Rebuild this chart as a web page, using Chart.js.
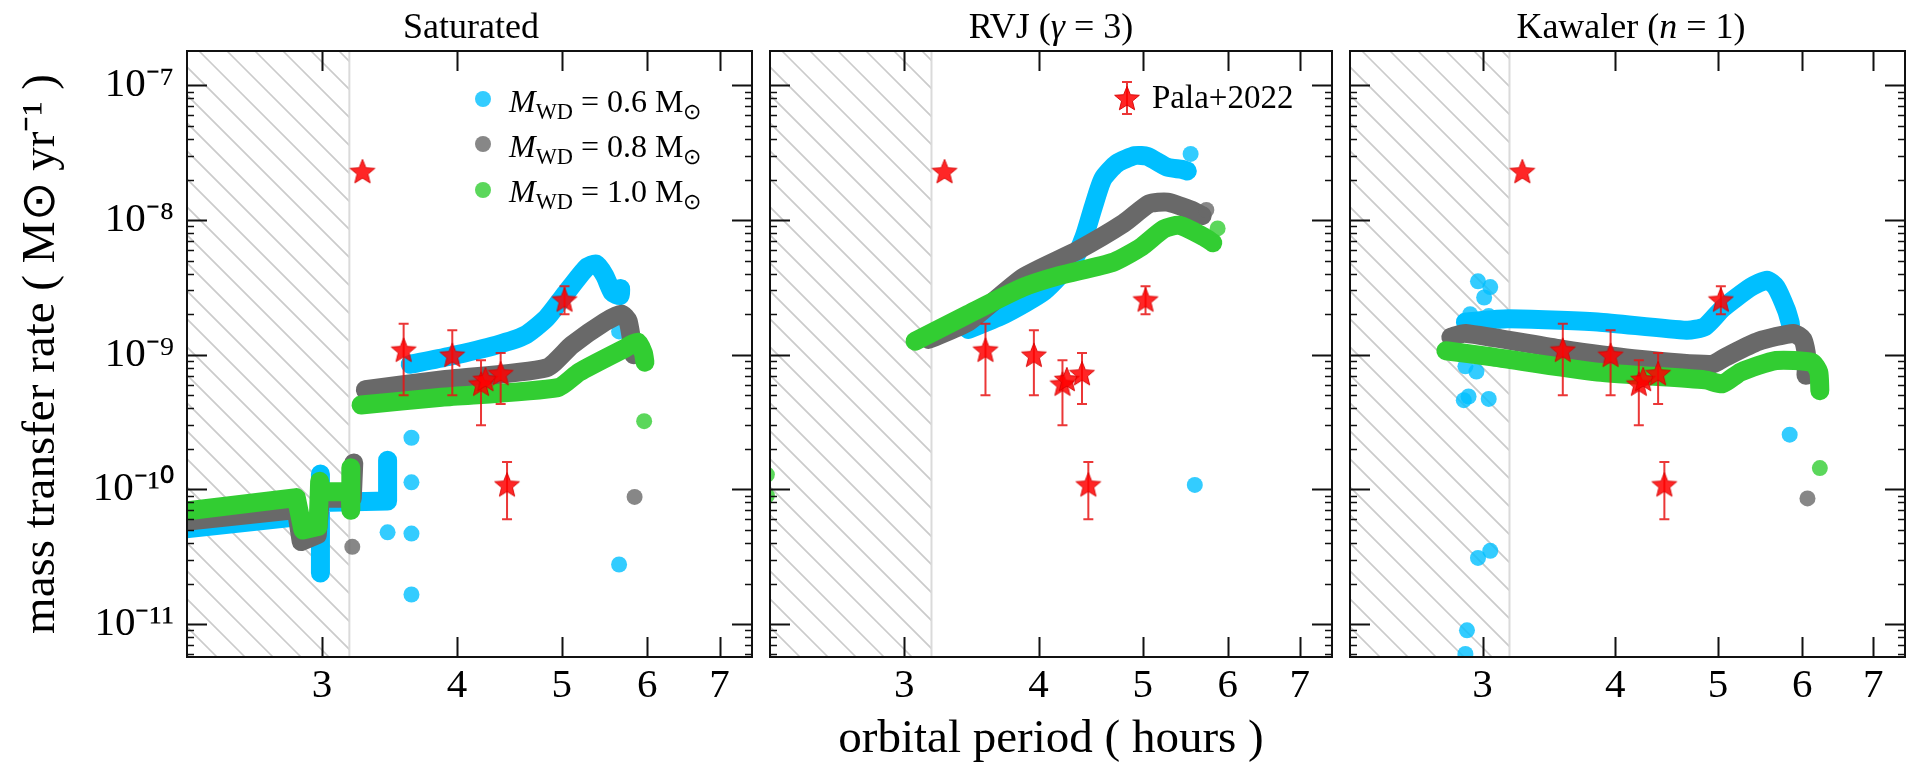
<!DOCTYPE html>
<html>
<head>
<meta charset="utf-8">
<script src="https://cdn.jsdelivr.net/npm/chart.js@4.4.0/dist/chart.umd.min.js"></script>
<style>
  body { margin: 0; width: 1918px; height: 768px; overflow: hidden; position: relative; background: #fff;
         font-family: "Liberation Serif", "Times New Roman", serif; color: #000; }
  canvas { position: absolute; top: 0; }
  .ttl { position: absolute; top: 8px; height: 36px; line-height: 36px; font-size: 36px; text-align: center; white-space: nowrap; }
  .lg { position: absolute; font-size: 32px; line-height: 32px; white-space: nowrap; }
  .lg2 { font-size: 33px; line-height: 33px; }
  .sb { font-size: 0.7em; position: relative; top: 0.3em; }
  .dot { position: absolute; width: 16px; height: 16px; border-radius: 50%; }
</style>
</head>
<body>
<canvas id="satChart" width="765" height="768" style="left:0px"></canvas>
<canvas id="rvjChart" width="588" height="768" style="left:757px"></canvas>
<canvas id="kawChart" width="581" height="768" style="left:1337px"></canvas>

<div class="ttl" style="left:187px;width:568px">Saturated</div>
<div class="ttl" style="left:767px;width:568px">RVJ (<i>γ</i> = 3)</div>
<div class="ttl" style="left:1347px;width:568px">Kawaler (<i>n</i> = 1)</div>

<!-- legend, Saturated panel -->
<div class="dot" style="left:475px;top:91px;background:rgba(0,191,255,0.8)"></div>
<div class="dot" style="left:475px;top:136px;background:rgba(105,105,105,0.8)"></div>
<div class="dot" style="left:475px;top:182px;background:rgba(50,205,50,0.8)"></div>
<div class="lg" style="left:509px;top:85px"><i>M</i><span class="sb">WD</span> = 0.6 M<span class="sb">⊙</span></div>
<div class="lg" style="left:509px;top:130px"><i>M</i><span class="sb">WD</span> = 0.8 M<span class="sb">⊙</span></div>
<div class="lg" style="left:509px;top:175px"><i>M</i><span class="sb">WD</span> = 1.0 M<span class="sb">⊙</span></div>

<!-- legend, RVJ panel -->
<canvas id="palaKey" width="40" height="40" style="left:1107px;top:78px"></canvas>
<div class="lg lg2" style="left:1152px;top:81px">Pala+2022</div>

<script>
// axis ranges and ticks
const X_MIN = 2.25, X_MAX = 7.5;
const Y_MIN = 5.7e-12, Y_MAX = 1.8e-7;
const GAP_EDGE = 3.18;               // upper edge of the hatched period gap
const periodTicks = [3, 4, 5, 6, 7];
const rateTicks = [1e-11, 1e-10, 1e-9, 1e-8, 1e-7];

// Pala+2022 observations (period in hours, rate in Msun/yr)
const palaPeriod = [3.27, 3.57, 3.96, 4.21, 4.25, 4.39, 5.03, 4.45];
const palaRate   = [2.31e-8, 1.09e-9, 1.0e-9, 6.1e-10, 6.6e-10, 7.3e-10, 2.57e-9, 1.09e-10];
const palaRateHi = [null, 1.70e-9, 1.52e-9, 9.1e-10, null, 1.03e-9, 3.22e-9, 1.60e-10];
const palaRateLo = [null, 5.0e-10, 5.0e-10, 3.0e-10, null, 4.3e-10, 2.0e-9, 6.0e-11];

// Saturated
const satBlueLow   = [[2.24, 5.1e-11], [2.86, 6.3e-11]];
const satBlueStep  = [[2.99, 1.3e-10], [2.99, 2.4e-11], [2.99, 8.0e-11], [3.45, 8.2e-11], [3.45, 1.65e-10]];
const satBlueHigh  = [[3.62, 8.5e-10], [3.93, 9.7e-10], [4.35, 1.18e-9], [4.62, 1.39e-9], [4.84, 1.87e-9], [5.03, 2.78e-9],
                      [5.27, 4.43e-9], [5.38, 4.72e-9], [5.48, 3.87e-9], [5.57, 2.9e-9], [5.66, 2.75e-9], [5.67, 3.1e-9]];
const satBluePts   = [[3.45, 4.8e-11], [3.63, 2.42e-10], [3.63, 1.13e-10], [3.63, 4.7e-11], [3.63, 1.66e-11], [5.65, 2.77e-11], [5.65, 1.49e-9]];
const satGrayLow   = [[2.24, 5.8e-11], [2.84, 7.1e-11], [2.87, 4.1e-11], [2.97, 4.6e-11], [2.99, 8.6e-11], [3.2, 8.6e-11], [3.21, 1.57e-10]];
const satGrayHigh  = [[3.29, 5.5e-10], [3.87, 6.5e-10], [4.84, 8.0e-10], [5.11, 1.18e-9], [5.48, 1.75e-9], [5.68, 2.0e-9], [5.76, 1.78e-9], [5.83, 1.0e-9]];
const satGrayPts   = [[3.20, 3.75e-11], [5.84, 8.8e-11]];
const satGreenLow  = [[2.24, 6.9e-11], [2.84, 8.7e-11], [2.88, 5.0e-11], [2.975, 5.3e-11], [2.985, 1.15e-10], [2.99, 9.6e-11],
                      [3.185, 9.6e-11], [3.19, 7.0e-11], [3.19, 1.45e-10]];
const satGreenHigh = [[3.26, 4.24e-10], [3.87, 4.83e-10], [4.96, 5.7e-10], [5.19, 7.43e-10], [5.70, 1.10e-9], [5.88, 1.24e-9], [5.95, 1.03e-9], [5.97, 8.8e-10]];
const satGreenPts  = [[5.96, 3.21e-10]];

// RVJ (gamma = 3)
const rvjBlue      = [[3.44, 1.54e-9], [3.72, 2.0e-9], [4.05, 2.97e-9], [4.31, 5.05e-9], [4.41, 7.5e-9], [4.50, 1.27e-8], [4.59, 2.02e-8],
                      [4.73, 2.63e-8], [4.92, 3.01e-8], [5.05, 2.97e-8], [5.27, 2.47e-8], [5.44, 2.38e-8], [5.50, 2.31e-8]];
const rvjBluePts   = [[5.54, 3.1e-8], [5.59, 1.08e-10]];
const rvjGray      = [[3.16, 1.30e-9], [3.44, 1.75e-9], [3.87, 3.75e-9], [4.35, 5.96e-9], [4.80, 9.46e-9], [5.07, 1.32e-8], [5.27, 1.36e-8], [5.54, 1.19e-8], [5.68, 1.08e-8]];
const rvjGrayPts   = [[5.73, 1.19e-8]];
const rvjGreen     = [[3.07, 1.26e-9], [3.44, 2.0e-9], [3.87, 3.17e-9], [4.18, 3.87e-9], [4.70, 4.89e-9], [4.99, 6.35e-9], [5.23, 8.57e-9],
                      [5.41, 9.14e-9], [5.70, 7.5e-9], [5.81, 6.79e-9]];
const rvjGreenPts  = [[5.87, 8.67e-9], [2.235, 1.29e-10], [2.235, 9.0e-11]];

// Kawaler (n = 1)
const kawBlue      = [[2.89, 1.75e-9], [3.17, 1.85e-9], [3.85, 1.75e-9], [4.67, 1.52e-9], [4.86, 1.62e-9], [5.05, 2.21e-9], [5.37, 3.18e-9],
                      [5.56, 3.58e-9], [5.67, 3.18e-9], [5.80, 2.14e-9], [5.85, 1.70e-9]];
const kawBluePts   = [[2.97, 3.51e-9], [3.05, 3.18e-9], [3.01, 2.66e-9], [2.92, 2.0e-9], [3.04, 1.94e-9], [2.89, 8.2e-10], [2.96, 7.5e-10],
                      [2.91, 4.9e-10], [2.88, 4.6e-10], [3.04, 4.7e-10], [2.97, 3.1e-11], [3.05, 3.5e-11], [2.90, 9.0e-12], [2.89, 6.0e-12], [5.84, 2.55e-10]];
const kawGray      = [[2.80, 1.35e-9], [2.89, 1.44e-9], [3.56, 1.10e-9], [4.16, 9.35e-10], [4.93, 8.48e-10], [5.09, 9.68e-10], [5.46, 1.26e-9],
                      [5.89, 1.44e-9], [6.01, 1.30e-9], [6.06, 9.7e-10], [6.05, 7.05e-10]];
const kawGrayPts   = [[6.07, 8.57e-11]];
const kawGreen     = [[2.77, 1.07e-9], [3.05, 9.68e-10], [3.85, 7.43e-10], [4.86, 6.51e-10], [5.05, 6.09e-10], [5.25, 7.43e-10], [5.67, 9.06e-10],
                      [6.13, 8.77e-10], [6.22, 7.43e-10], [6.235, 5.41e-10]];
const kawGreenPts  = [[6.235, 1.44e-10]];

const FONT = '"Liberation Serif", "Times New Roman", serif';
const BLUE = 'rgb(0,191,255)', BLUE_A = 'rgba(0,191,255,0.8)';
const GRAY = 'rgb(105,105,105)', GRAY_A = 'rgba(105,105,105,0.8)';
const GREEN = 'rgb(50,205,50)', GREEN_A = 'rgba(50,205,50,0.8)';

Chart.defaults.font.family = FONT;
Chart.defaults.color = '#000';

// 5-point star used as point style
function makeStar(r) {
  const c = document.createElement('canvas');
  const s = Math.ceil(r * 2 + 4);
  c.width = c.height = s;
  const g = c.getContext('2d');
  g.translate(s / 2, s / 2 + r * 0.1);
  g.beginPath();
  for (let i = 0; i < 10; i++) {
    const rad = i % 2 ? r * 0.44 : r;
    const a = -Math.PI / 2 + i * Math.PI / 5;
    g.lineTo(rad * Math.cos(a), rad * Math.sin(a));
  }
  g.closePath();
  g.fillStyle = 'rgba(255,0,0,0.85)';
  g.fill();
  g.strokeStyle = 'rgba(215,0,0,0.9)';
  g.lineWidth = 1;
  g.stroke();
  return c;
}
const starImg = makeStar(13);

const sup = { '-': '⁻', '0': '⁰', '1': '¹', '2': '²', '3': '³', '4': '⁴', '5': '⁵', '6': '⁶', '7': '⁷', '8': '⁸', '9': '⁹' };
const rateLabel = v => '10' + String(Math.round(Math.log10(v))).split('').map(c => sup[c]).join('');

const xy = arr => arr.map(p => ({ x: p[0], y: p[1] }));

function band(data, color, order, tension) {
  return {
    data: xy(data), showLine: true, borderColor: color, backgroundColor: color, borderWidth: 19,
    borderCapStyle: 'round', borderJoinStyle: 'round', pointRadius: 0, tension: tension === undefined ? 0.2 : tension,
    order: order, clip: 0, fill: false
  };
}
function dots(data, color, order) {
  return { data: xy(data), showLine: false, pointRadius: 8, pointBackgroundColor: color, pointBorderWidth: 0, order: order, clip: 0 };
}
function palaSet() {
  return {
    data: palaPeriod.map((p, i) => ({ x: p, y: palaRate[i] })), showLine: false,
    pointStyle: starImg, pointRadius: 12, order: 0, clip: 0, errorBars: true
  };
}

// hatch, frame, inward ticks and error bars
const panelPlugin = {
  id: 'panelDeco',
  beforeDatasetsDraw(chart) {
    const { ctx, chartArea: a, scales: { x } } = chart;
    const x1 = x.getPixelForValue(X_MIN), x2 = x.getPixelForValue(GAP_EDGE);
    const h = a.bottom - a.top;
    ctx.save();
    ctx.beginPath();
    ctx.rect(x1, a.top, x2 - x1, h);
    ctx.clip();
    ctx.beginPath();
    ctx.strokeStyle = '#cbcbcb';
    ctx.lineWidth = 1.6;
    for (let k = x1 + 12 - 28 * 30; k < x2; k += 28) {
      ctx.moveTo(k, a.top);
      ctx.lineTo(k + h, a.bottom);
    }
    ctx.stroke();
    ctx.restore();
    ctx.save();
    ctx.strokeStyle = '#dadada';
    ctx.lineWidth = 2;
    ctx.beginPath();
    ctx.moveTo(x2, a.top);
    ctx.lineTo(x2, a.bottom);
    ctx.stroke();
    ctx.restore();
  },
  beforeDatasetDraw(chart, args) {
    const ds = chart.data.datasets[args.index];
    if (!ds.errorBars) return;
    const { ctx, scales: { x, y } } = chart;
    ctx.save();
    ctx.strokeStyle = 'rgba(232,20,20,0.85)';
    ctx.lineWidth = 2;
    ctx.beginPath();
    palaPeriod.forEach((p, i) => {
      if (palaRateHi[i] == null) return;
      const px = x.getPixelForValue(p);
      const y1 = y.getPixelForValue(palaRateHi[i]), y2 = y.getPixelForValue(palaRateLo[i]);
      ctx.moveTo(px, y1); ctx.lineTo(px, y2);
      ctx.moveTo(px - 5, y1); ctx.lineTo(px + 5, y1);
      ctx.moveTo(px - 5, y2); ctx.lineTo(px + 5, y2);
    });
    ctx.stroke();
    ctx.restore();
  },
  afterDraw(chart) {
    const { ctx, chartArea: a, scales: { x, y } } = chart;
    ctx.save();
    ctx.strokeStyle = '#111';
    ctx.lineWidth = 2;
    ctx.beginPath();
    periodTicks.forEach(v => {
      const px = Math.round(x.getPixelForValue(v)) + 0.5;
      ctx.moveTo(px, a.bottom); ctx.lineTo(px, a.bottom - 20);
      ctx.moveTo(px, a.top); ctx.lineTo(px, a.top + 20);
    });
    rateTicks.forEach(v => {
      const py = Math.round(y.getPixelForValue(v)) + 0.5;
      ctx.moveTo(a.left, py); ctx.lineTo(a.left + 20, py);
      ctx.moveTo(a.right, py); ctx.lineTo(a.right - 20, py);
    });
    ctx.stroke();
    ctx.lineWidth = 1.5;
    ctx.beginPath();
    for (let k = -12; k <= -7; k++) {
      for (let m = 2; m <= 9; m++) {
        const v = m * Math.pow(10, k);
        if (v <= Y_MIN || v >= Y_MAX) continue;
        const py = Math.round(y.getPixelForValue(v)) + 0.5;
        ctx.moveTo(a.left, py); ctx.lineTo(a.left + 7, py);
        ctx.moveTo(a.right, py); ctx.lineTo(a.right - 7, py);
      }
    }
    ctx.stroke();
    ctx.lineWidth = 2;
    ctx.strokeRect(a.left, a.top, a.right - a.left, a.bottom - a.top);
    ctx.restore();
  }
};

function makePanel(id, datasets, opt) {
  return new Chart(document.getElementById(id), {
    type: 'scatter',
    data: { datasets: datasets },
    options: {
      responsive: false,
      devicePixelRatio: 1,
      animation: false,
      events: [],
      layout: { padding: { top: 51, bottom: 0, left: opt.padLeft, right: opt.padRight } },
      plugins: { legend: { display: false }, tooltip: { enabled: false } },
      scales: {
        x: {
          type: 'logarithmic', min: X_MIN, max: X_MAX,
          afterBuildTicks: s => { s.ticks = periodTicks.map(v => ({ value: v })); },
          afterFit: s => { s.height = 111; },
          ticks: { callback: v => String(v), font: { size: 41 }, color: '#000', padding: 5, autoSkip: false, maxRotation: 0, minRotation: 0 },
          grid: { display: false, drawTicks: false },
          border: { display: false },
          title: { display: !!opt.xTitle, text: 'orbital period ( hours )', font: { size: 47 }, color: '#000', padding: 0 }
        },
        y: {
          type: 'logarithmic', min: Y_MIN, max: Y_MAX, display: !!opt.showY,
          afterBuildTicks: s => { s.ticks = rateTicks.map(v => ({ value: v })); },
          afterFit: s => { s.width = opt.showY ? 187 : 0; },
          ticks: { callback: v => rateLabel(v), font: { size: 41 }, color: '#000', padding: 13, autoSkip: false },
          grid: { display: false, drawTicks: false },
          border: { display: false },
          title: { display: true, text: 'mass transfer rate ( M⊙ yr⁻¹ )', font: { size: 47 }, color: '#000', padding: { top: 13, bottom: 0 } }
        }
      }
    },
    plugins: [panelPlugin]
  });
}

// blue drawn first, then gray, then green, stars on top
makePanel('satChart', [
  palaSet(),
  dots(satGreenPts, GREEN_A, 1), band(satGreenLow, GREEN, 2, 0), band(satGreenHigh, GREEN, 2),
  dots(satGrayPts, GRAY_A, 3), band(satGrayLow, GRAY, 4, 0), band(satGrayHigh, GRAY, 4),
  dots(satBluePts, BLUE_A, 5), band(satBlueLow, BLUE, 6, 0), band(satBlueStep, BLUE, 6, 0), band(satBlueHigh, BLUE, 6)
], { padLeft: 0, padRight: 10, showY: true });

makePanel('rvjChart', [
  palaSet(),
  dots(rvjGreenPts, GREEN_A, 1), band(rvjGreen, GREEN, 2),
  dots(rvjGrayPts, GRAY_A, 3), band(rvjGray, GRAY, 4),
  dots(rvjBluePts, BLUE_A, 5), band(rvjBlue, BLUE, 6)
], { padLeft: 10, padRight: 10, xTitle: true });

makePanel('kawChart', [
  palaSet(),
  dots(kawGreenPts, GREEN_A, 1), band(kawGreen, GREEN, 2),
  dots(kawGrayPts, GRAY_A, 3), band(kawGray, GRAY, 4),
  dots(kawBluePts, BLUE_A, 5), band(kawBlue, BLUE, 6)
], { padLeft: 10, padRight: 3 });

// legend key for the observations: star with error bar
(function () {
  const g = document.getElementById('palaKey').getContext('2d');
  g.strokeStyle = 'rgba(232,20,20,0.85)';
  g.lineWidth = 2;
  g.beginPath();
  g.moveTo(20, 4); g.lineTo(20, 36);
  g.moveTo(15, 4); g.lineTo(25, 4);
  g.moveTo(15, 36); g.lineTo(25, 36);
  g.stroke();
  g.drawImage(starImg, 20 - starImg.width / 2, 20 - starImg.height / 2);
})();
</script>
</body>
</html>
